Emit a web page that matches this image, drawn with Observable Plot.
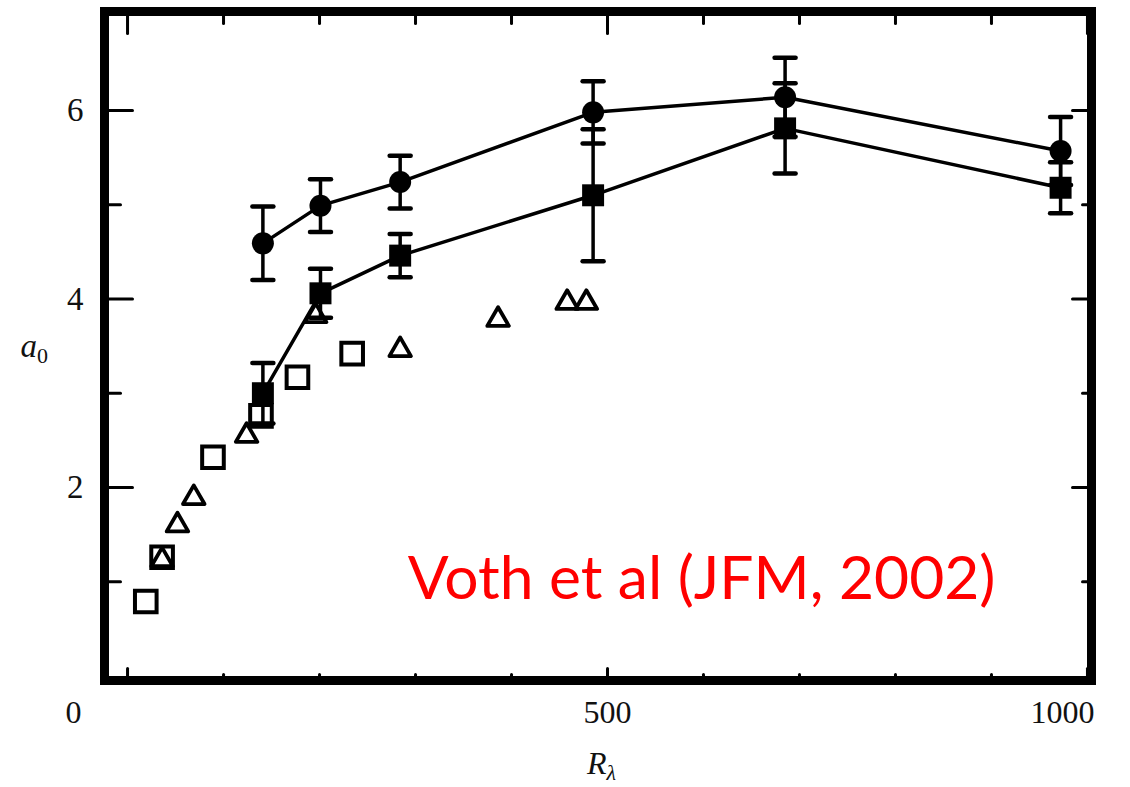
<!DOCTYPE html>
<html><head><meta charset="utf-8">
<script src="https://cdn.jsdelivr.net/npm/d3@7"></script>
<script src="https://cdn.jsdelivr.net/npm/@observablehq/plot@0.6"></script>
<style>html,body{margin:0;padding:0;background:#fff}</style>
</head><body><div id="chart"></div>
<script>
// Filled circles (with error bars)
const reCircle = [141, 201, 284, 485, 685, 972];
const a0Circle = [4.59, 4.99, 5.24, 5.98, 6.14, 5.57];
const errCircle = [0.39, 0.28, 0.28, 0.33, 0.42, 0.36];
// Filled squares (with error bars)
const reSquare = [141, 201, 284, 485, 685, 972];
const a0Square = [3.00, 4.06, 4.46, 5.10, 5.81, 5.18];
const errSquare = [0.32, 0.26, 0.23, 0.70, 0.48, 0.27];
// Open squares
const reOpenSquare = [19, 36, 89, 139, 177, 234];
const a0OpenSquare = [0.79, 1.26, 2.32, 2.76, 3.17, 3.42];
// Open triangles
const reTriangle = [36, 52, 69, 124, 196, 284, 386, 458, 478];
const a0Triangle = [1.23, 1.60, 1.89, 2.55, 3.82, 3.46, 3.78, 3.96, 3.96];
// Ticks
const xMajor = [0, 500, 1000];
const xMinor = [100, 200, 300, 400, 600, 700, 800, 900];
const yMajor = [2, 4, 6];
const yMinor = [1, 3, 5];
const yLabels = [2, 4, 6];
const annotation = "Voth et al (JFM, 2002)";

const mk = (re, a, err) => re.map((r, i) => ({R: r, a: a[i], lo: err ? a[i] - err[i] : null, hi: err ? a[i] + err[i] : null}));
const circles = mk(reCircle, a0Circle, errCircle);
const squares = mk(reSquare, a0Square, errSquare);
const openSquares = mk(reOpenSquare, a0OpenSquare);
const triangles = mk(reTriangle, a0Triangle);

const lineShape = {draw(ctx, l) { ctx.moveTo(0, 0); ctx.lineTo(0, -l); }};
const tickMarks = (vals, anchor, len, rotate) =>
  Plot.vector(vals, {
    ...(anchor === "left" || anchor === "right" ? {y: d => d} : {x: d => d}),
    frameAnchor: anchor, length: len, rotate, anchor: "start",
    shape: lineShape, stroke: "black", strokeWidth: 3
  });
const capMarks = (data, key) => Plot.vector(data, {
  x: "R", y: key, length: 21, rotate: 90, anchor: "middle", shape: lineShape,
  stroke: "black", strokeWidth: 4.5, strokeLinecap: "round"
});

const serif = "'Liberation Serif', 'Times New Roman', serif";

const chart = Plot.plot({
  width: 1130, height: 787,
  marginLeft: 104, marginRight: 39, marginTop: 11, marginBottom: 107,
  style: {fontFamily: serif, background: "white", overflow: "visible"},
  x: {domain: [-24, 1004.2], axis: null},
  y: {domain: [-0.048, 7.05], axis: null},
  marks: [
    // inward ticks
    tickMarks(yMajor, "left", 28, 90),
    tickMarks(yMinor, "left", 16, 90),
    tickMarks(yMajor, "right", 19, -90),
    tickMarks(yMinor, "right", 9, -90),
    tickMarks(xMajor, "top", 22, 180),
    tickMarks(xMinor, "top", 12, 180),
    tickMarks(xMajor, "bottom", 12, 0),
    tickMarks(xMinor, "bottom", 6, 0),
    // tick labels
    Plot.text(yLabels, {y: d => d, frameAnchor: "left", dx: -21, textAnchor: "end", text: d => String(d), fontSize: 33, fill: "#111"}),
    Plot.text([0], {x: d => d, frameAnchor: "bottom", dx: -54, dy: 20, lineAnchor: "top", text: d => String(d), fontSize: 32, fill: "#111"}),
    Plot.text([500], {x: d => d, frameAnchor: "bottom", dx: 0, dy: 20, lineAnchor: "top", text: d => String(d), fontSize: 32, fill: "#111"}),
    Plot.text([1000], {x: d => d, frameAnchor: "bottom", dx: -25, dy: 20, lineAnchor: "top", text: d => String(d), fontSize: 32, fill: "#111"}),
    // axis titles
    Plot.text(["a0"], {frameAnchor: "left", dx: -84, textAnchor: "start", text: d => d, fontSize: 33, fill: "#111"}),
    Plot.text(["Rλ"], {frameAnchor: "bottom", dx: -11, dy: 93, textAnchor: "start", lineAnchor: "bottom", text: d => d, fontSize: 32, fill: "#111"}),
    // connecting lines
    Plot.line(circles, {x: "R", y: "a", stroke: "black", strokeWidth: 3.5}),
    Plot.line(squares, {x: "R", y: "a", stroke: "black", strokeWidth: 3.5}),
    // error bars
    Plot.ruleX(circles, {x: "R", y1: "lo", y2: "hi", stroke: "black", strokeWidth: 3.5}),
    Plot.ruleX(squares, {x: "R", y1: "lo", y2: "hi", stroke: "black", strokeWidth: 3.5}),
    capMarks(circles, "lo"), capMarks(circles, "hi"),
    capMarks(squares, "lo"), capMarks(squares, "hi"),
    // open markers
    Plot.dot(openSquares, {x: "R", y: "a", symbol: "square", r: 12.2, stroke: "black", strokeWidth: 4, fill: "none"}),
    Plot.dot(triangles, {x: "R", y: "a", symbol: "triangle", r: 8, stroke: "black", strokeWidth: 3.8, fill: "none", strokeLinejoin: "round"}),
    // filled markers
    Plot.dot(circles, {x: "R", y: "a", symbol: "circle", r: 11, fill: "black"}),
    Plot.dot(squares, {x: "R", y: "a", symbol: "square", r: 12.4, fill: "black"}),
    // annotation
    Plot.text([annotation], {frameAnchor: "bottom-right", dx: -96, dy: -82, textAnchor: "end", lineAnchor: "bottom", text: d => d, fontSize: 60.5, fill: "#ff0000", fontFamily: "Lato, 'Open Sans', sans-serif"}),
    Plot.frame({stroke: "black", strokeWidth: 9})
  ]
});
document.getElementById("chart").appendChild(chart);

// italic axis titles with subscripts
d3.select(chart).selectAll("text").each(function() {
  const t = d3.select(this);
  const s = this.textContent;
  if (s === "a0" || s === "Rλ") {
    t.text(null);
    t.append("tspan").attr("font-style", "italic").text(s[0]);
    t.append("tspan").attr("font-style", s === "a0" ? "normal" : "italic")
      .attr("font-size", 22).attr("dy", 6).text(s.slice(1));
  }
});
</script>
</body></html>
